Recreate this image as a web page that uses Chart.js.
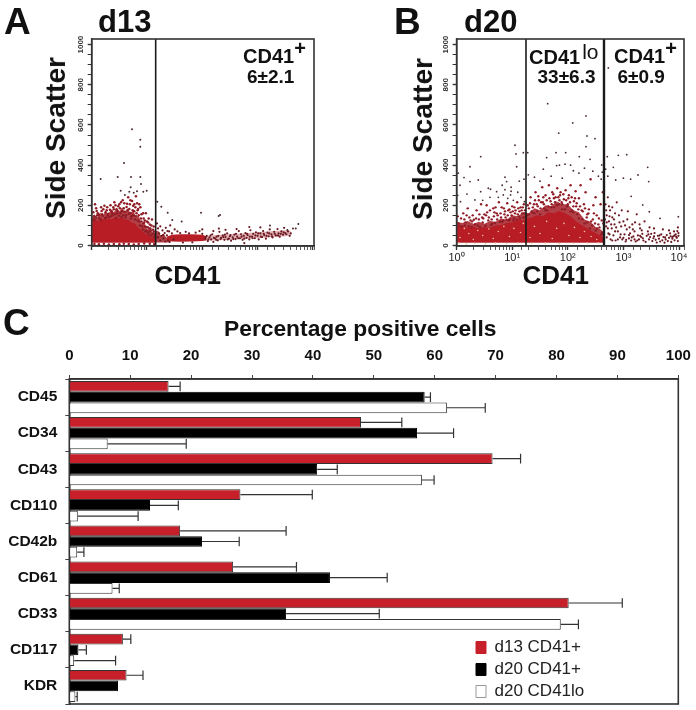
<!DOCTYPE html>
<html><head><meta charset="utf-8">
<script src="https://cdn.jsdelivr.net/npm/chart.js@4/dist/chart.umd.min.js"></script>
<style>
html,body{margin:0;padding:0;background:#fff;width:696px;height:710px;overflow:hidden}
canvas{position:absolute;display:block}
.t{position:absolute;font-family:"Liberation Sans",Arial,sans-serif;font-weight:bold;line-height:1;white-space:nowrap;color:#111}
.r{transform:translate(-50%,-50%) rotate(-90deg);font-size:28px}
.p{position:relative;top:-8px}
</style></head><body>
<canvas id="ca" width="340" height="300" style="left:0;top:0;width:340px;height:300px"></canvas>
<canvas id="cb" width="356" height="300" style="left:340px;top:0;width:356px;height:300px"></canvas>
<canvas id="cc" width="696" height="410" style="left:0;top:300px;width:696px;height:410px"></canvas>

<div class="t" style="left:4px;top:3px;font-size:37px">A</div>
<div class="t" style="left:98px;top:6px;font-size:31px">d13</div>
<div class="t r" style="left:56px;top:137.5px">Side Scatter</div>
<div class="t" style="left:154.5px;top:262px;font-size:26px">CD41</div>
<div class="t" style="left:243px;top:46px;font-size:20px">CD41<span class="p">+</span></div>
<div class="t" style="left:247px;top:67px;font-size:19px">6±2.1</div>

<div class="t" style="left:394px;top:3px;font-size:37px">B</div>
<div class="t" style="left:464px;top:6px;font-size:31px">d20</div>
<div class="t r" style="left:422.6px;top:139px">Side Scatter</div>
<div class="t" style="left:522.5px;top:262px;font-size:26px">CD41</div>
<div class="t" style="left:529px;top:46px;font-size:20px">CD41<span style="position:relative;top:-5px;font-weight:normal;font-size:21px;margin-left:2px">lo</span></div>
<div class="t" style="left:537.5px;top:67px;font-size:19px">33±6.3</div>
<div class="t" style="left:614px;top:46px;font-size:20px">CD41<span class="p">+</span></div>
<div class="t" style="left:617.5px;top:67px;font-size:19px">6±0.9</div>

<div class="t" style="left:3px;top:303.5px;font-size:37px">C</div>
<div class="t" style="left:224px;top:316.7px;font-size:22.8px">Percentage positive cells</div>

<script>
// ---- Panel C: values
const markers = ["CD45","CD34","CD43","CD110","CD42b","CD61","CD33","CD117","KDR"];
const d13Pos  = [16.3,47.9,69.5,28.1,18.2,26.9,82.0,8.8,9.4];
const d13PosHi= [18.2,54.6,74.1,39.9,35.6,37.3,90.8,10.1,12.1];
const d20Pos  = [58.35,57.1,40.7,13.25,21.8,42.8,35.6,1.5,8.0];
const d20PosHi= [59.3,63.1,44.0,17.9,27.9,52.2,50.9,2.8,null];
const d20Lo   = [62.0,6.3,57.9,1.4,1.3,7.1,80.7,0.8,1.0];
const d20LoHi = [68.3,19.2,59.9,11.3,2.4,8.2,83.6,7.6,1.3];
const pctTicks = [0,10,20,30,40,50,60,70,80,90,100];

// ---- Panels A and B: gates in log10(CD41), events as [log10(CD41), side scatter]
const gateA = [1.157];
const gateB = [1.248, 2.651];
const sscTickLabels = [0,200,400,600,800,1000];
const massFloor = 15;

const massAUpper = [[0,120],[.06,128],[.12,122],[.18,132],[.24,126],[.3,135],[.36,130],[.42,140],[.48,134],[.54,140],[.6,130],[.66,128],[.72,115],[.78,110],[.84,88],[.9,78],[.96,58],[1.02,55],[1.08,38],[1.157,40]];
const fringeAUpper = [[0,135],[.05,155],[.1,140],[.15,165],[.2,145],[.25,172],[.3,155],[.35,180],[.4,165],[.45,185],[.5,170],[.55,190],[.6,165],[.65,185],[.7,160],[.75,175],[.8,140],[.85,150],[.9,105],[.95,120],[1.0,80],[1.05,92],[1.1,58],[1.157,66],[1.2,75],[1.25,48],[1.3,60],[1.35,38],[1.4,46]];
const bandAUpper = [[1.36,44],[1.45,54],[1.6,56],[1.8,56],[2.01,54],[2.08,44]];
const bandALower = [[1.36,26],[1.45,20],[1.6,19],[1.8,20],[2.01,22],[2.08,26]];
const tailAUpper = [[2.05,48],[2.5,56],[3,66],[3.5,76],[3.6,74]];
const tailALower = [[2.05,24],[2.5,28],[3,36],[3.5,46],[3.6,50]];

const outliersA = [[.729,579],[.879,527],[.879,492],[.584,411],[.163,331],[.47,341],[.711,341],[.879,341],[.892,306],[.705,290],[.68,268],[.524,273],[.819,270],[.933,268],[.994,272],[.6,252],[.76,262],
[1.186,218],[1.259,193],[1.374,163],[1.457,127],[1.627,119],[1.977,163],[2.32,152],[2.296,147],[3.736,107],[3.69,84],[3.64,84],[3.537,77],[3.224,99]];
const edgeA = [[.03,165],[.06,205],[.08,185],[.1,150],[.02,130],[.05,128],[.14,135],[.18,172],[.2,148],[.23,198],[.26,140],[.3,158],[.33,178],[.35,145],[.39,190],[.42,155],[.44,138],[.47,172],[.5,205],[.52,160],[.54,142],[.56,225],[.58,185],[.6,168],[.62,150],[.64,208],[.66,240],[.68,182],[.7,162],[.72,145],[.73,222],[.75,198],[.77,170],[.78,130],[.8,245],[.82,210],[.84,182],[.85,150],[.86,120],[.88,190],[.9,155],[.92,110],[.94,135],[.96,95],[.98,160],[1.0,120],[1.02,90],[1.05,105],[1.07,75],[1.09,130],[1.1,60],[1.12,95],[1.14,55],
[.08,140],[.11,160],[.16,128],[.21,180],[.24,135],[.28,190],[.31,142],[.37,160],[.41,215],[.45,180],[.49,148],[.51,185],[.55,170],[.59,210],[.61,140],[.63,192],[.67,158],[.69,205],[.71,135],[.74,175],[.76,150],[.79,190],[.81,160],[.83,125],[.87,100],[.89,135],[.91,95],[.93,80],[.95,115],[.97,70],[.99,92],[1.01,65],[1.03,135],[1.04,55],[1.06,85],[1.08,50],[1.11,78],[1.13,42],[1.15,70],
[.04,145],[.09,172],[.13,150],[.17,190],[.19,155],[.25,165],[.27,175],[.29,150],[.34,200],[.36,170],[.38,152],[.4,180],[.43,200],[.46,160],[.48,195],[.53,215],[.57,150],[.65,175],[.7,225],[.74,150],[.77,205],[.8,145],[.83,175],[.86,205],[.9,120],[.93,160],[.96,125],[.99,75],[1.02,115],[1.05,70],[1.08,100],[1.12,68],
[.05,8],[.13,6],[.22,9],[.31,5],[.4,8],[.5,6],[.58,9],[.67,7],[.76,5],[.85,8],[.95,10],[1.05,9],[1.13,7]];
const rightA = [[1.18,110],[1.2,85],[1.22,60],[1.24,95],[1.26,48],[1.28,75],[1.3,35],[1.32,62],[1.34,88],[1.36,50],[1.38,25],[1.4,70],[1.42,100],[1.45,60],[1.48,30],[1.5,80],[1.55,70],[1.6,62],[1.65,15],[1.2,40],[1.24,25],[1.29,52],[1.33,20],[1.37,72],[1.41,18],[1.7,68],[1.76,60],[1.82,16],[1.88,64],[1.95,72],[2.0,58],
[2.05,34],[2.08,48],[2.1,22],[2.13,40],[2.16,30],[2.18,56],[2.2,18],[2.23,36],[2.26,44],[2.28,26],[2.31,68],[2.34,38],[2.37,50],[2.4,28],[2.42,42],[2.45,60],[2.48,34],[2.5,46],[2.52,24],[2.55,40],[2.58,54],[2.6,32],[2.63,44],[2.66,72],[2.68,36],[2.7,56],[2.73,28],[2.75,48],[2.78,62],[2.8,38],[2.82,52],[2.85,30],[2.87,76],[2.9,44],[2.92,58],[2.95,36],[2.97,66],[3.0,48],[3.02,30],[3.05,60],[3.08,42],[3.1,72],[3.12,52],[3.15,34],[3.18,64],[3.2,46],[3.22,80],[3.25,56],[3.27,40],[3.3,68],[3.33,50],[3.36,82],[3.38,60],[3.4,44],[3.43,70],[3.46,54],[3.48,88],[3.5,62],[3.55,70],[3.58,48],[3.6,60],[2.0,80],[2.2,72],[2.3,84],[2.42,78],[2.62,82],[2.85,92],[2.76,12],[3.05,90],
[2.06,42],[2.11,30],[2.15,50],[2.21,38],[2.25,28],[2.29,48],[2.33,32],[2.38,42],[2.41,54],[2.46,30],[2.51,52],[2.56,32],[2.61,58],[2.65,36],[2.71,44],[2.76,34],[2.81,58],[2.86,44],[2.91,36],[2.96,50],[3.01,60],[3.06,44],[3.11,58],[3.16,48],[3.21,60],[3.26,46],[3.31,58],[3.37,50],[3.42,58],[3.47,66],[3.52,56]];

const massBUpper = [[0,92],[.1,98],[.2,88],[.3,95],[.4,84],[.5,92],[.6,88],[.7,100],[.8,102],[.9,112],[1.0,115],[1.1,130],[1.2,124],[1.248,135],[1.35,140],[1.45,150],[1.55,146],[1.65,165],[1.75,160],[1.85,172],[1.95,160],[2.05,145],[2.15,120],[2.25,102],[2.35,85],[2.45,68],[2.55,55],[2.651,36]];
const fringeBUpper = [[0,118],[.1,112],[.2,122],[.3,108],[.4,118],[.5,108],[.6,122],[.7,118],[.8,135],[.9,128],[1.0,150],[1.1,145],[1.2,165],[1.3,160],[1.4,185],[1.5,175],[1.6,200],[1.7,195],[1.8,220],[1.9,205],[2.0,205],[2.1,175],[2.2,165],[2.3,130],[2.4,120],[2.5,92],[2.6,78],[2.651,58]];

const sparseB = [[1.05,499],[1.068,456],[1.2,462],[.433,442],[.241,392],[1.08,392],[.133,338],[.241,318],[.39,326],[.87,340],[.9,318],[1.128,320],[1.212,330],[.82,300],[.98,290],[.87,278],[.98,270],[.57,285],[.61,280],[.187,256],[.433,268],[.72,268],[.84,252],[.97,252],[.07,218],[.33,227],[.47,225],[.6,240],[.03,360],[.06,300],[.02,250],[.75,240],[.92,235],[1.1,265],[1.02,225],[1.16,240],[1.22,218],
[1.638,706],[2.327,645],[2.088,610],[1.836,559],[2.345,545],[2.489,532],[2.327,492],[1.962,462],[1.788,462],[1.62,437],[2.207,442],[2.4,429],[1.85,400],[1.8,398],[1.95,405],[2.05,400],[1.279,462],[2.61,401],[1.29,352],[1.56,380],[1.4,340],[1.5,320],[1.7,345],[1.9,335],[2.1,372],[2.2,360],[2.3,385],[2.45,370],[2.55,345],[2.62,365],[2.6,330],
[2.729,884],[2.71,442],[2.908,449],[3.06,452],[2.68,380],[2.818,389],[3.437,389],[2.72,345],[3,335],[3.13,330],[3.263,351],[3.455,318],[2.862,326],[3.14,245],[3.347,202],[3.466,168],[3.66,135],[3.988,143]];
const cloudB = [[.03,110],[.08,135],[.12,160],[.16,115],[.2,185],[.25,125],[.29,150],[.33,105],[.36,175],[.4,130],[.44,205],[.47,115],[.5,155],[.54,200],[.57,125],[.6,175],[.64,108],[.67,145],[.7,190],[.73,130],[.76,215],[.79,160],[.82,118],[.85,185],[.88,140],[.91,210],[.94,125],[.97,165],[1.0,195],[1.03,135],[1.06,175],[1.09,215],[1.12,145],[1.15,190],[1.18,160],[1.21,205],[1.24,140],
[.05,98],[.1,95],[.15,100],[.22,96],[.27,92],[.31,128],[.38,100],[.42,92],[.46,140],[.52,98],[.55,165],[.62,102],[.66,185],[.69,112],[.72,160],[.78,118],[.81,190],[.84,125],[.86,155],[.9,128],[.93,175],[.96,130],[.99,150],[1.02,125],[1.05,160],[1.08,130],[1.11,185],[1.14,135],[1.17,175],[1.2,140],[1.23,175],
[1.27,150],[1.3,185],[1.33,240],[1.36,165],[1.39,205],[1.42,265],[1.45,170],[1.48,225],[1.51,185],[1.54,290],[1.57,205],[1.6,250],[1.63,175],[1.66,300],[1.69,220],[1.72,265],[1.75,190],[1.78,240],[1.81,285],[1.84,205],[1.87,265],[1.9,180],[1.93,230],[1.96,275],[1.99,195],[2.02,250],[2.05,300],[2.08,175],[2.11,220],[2.14,270],[2.17,155],[2.2,235],[2.23,300],[2.26,130],[2.29,205],[2.32,265],[2.35,115],[2.38,180],[2.41,330],[2.44,100],[2.47,160],[2.5,240],[2.53,85],[2.56,135],[2.59,205],[2.62,65],[2.64,110],[2.63,265],
[1.3,155],[1.35,170],[1.4,160],[1.46,195],[1.5,155],[1.55,215],[1.6,175],[1.65,195],[1.7,190],[1.75,235],[1.8,200],[1.85,225],[1.9,205],[1.95,180],[2.0,205],[2.05,170],[2.1,165],[2.15,195],[2.2,135],[2.25,175],[2.3,110],[2.35,155],[2.4,85],[2.45,130],[2.5,75],[2.55,105],[2.6,55],
[1.28,200],[1.32,210],[1.37,190],[1.41,225],[1.44,205],[1.47,245],[1.52,215],[1.56,240],[1.58,185],[1.62,225],[1.67,235],[1.71,205],[1.74,255],[1.77,215],[1.83,240],[1.86,250],[1.89,215],[1.92,255],[1.97,225],[2.01,235],[2.04,215],[2.07,240],[2.1,195],[2.13,235],[2.16,210],[2.19,180],[2.22,195],[2.27,170],[2.31,185],[2.34,140],[2.37,160],[2.42,120],[2.46,200],[2.49,110],[2.52,150],[2.57,90],[2.61,125],[.02,145],[.14,130],[.18,150],[.23,140],[.28,120],[.35,135],[.41,155],[.48,135],[.53,150],[.58,140],[.63,130],[.68,165],[.74,150],[.8,140],[.87,170],[.92,150],[.95,180],[1.01,170],[1.04,190],[1.1,155],[1.13,170],[1.19,190],[1.22,160]];
const rightB = [[2.68,205],[2.7,150],[2.69,95],[2.72,240],[2.73,60],[2.74,120],[2.76,175],[2.77,30],[2.79,85],[2.8,140],[2.82,50],[2.84,105],[2.86,25],[2.88,215],[2.9,70],[2.92,150],[2.94,40],[2.96,95],[2.98,30],[3.0,120],[3.02,55],[3.04,20],[3.06,80],[3.08,170],[3.1,35],[3.12,60],[3.14,25],[3.16,105],[3.18,45],[3.2,70],[3.22,20],[3.24,155],[3.26,50],[3.28,30],[3.3,85],[3.32,42],[3.34,58],[3.36,25],[3.38,120],[3.4,18],[3.42,48],[3.44,70],[3.46,30],[3.48,42],[3.5,58],[3.52,22],[3.54,36],[3.56,62],[3.58,28],[3.6,15],[3.62,48],[3.64,34],[3.66,20],[3.68,55],[3.7,26],[3.72,42],[3.74,14],[3.76,30],[3.78,52],[3.8,22],[3.82,38],[3.84,60],[3.86,18],[3.88,34],[3.9,46],[3.92,26],[3.94,56],[3.96,38],[3.98,22],[3.99,62],[3.98,90],[3.99,48],[3.97,72],
[2.7,40],[2.75,55],[2.8,25],[2.85,70],[2.9,30],[2.95,55],[3.0,38],[3.05,28],[3.1,52],[3.15,40],[3.2,30],[3.25,25],[3.3,48],[3.35,36],[3.45,55],[3.55,45],[3.65,50],[3.75,40],[3.85,46],[3.95,44],[3.92,50],[3.88,42],
[2.67,130],[2.69,175],[2.7,115],[2.72,85],[2.74,195],[2.75,145],[2.78,105],[2.8,190],[2.83,130],[2.85,160],[2.87,90],[2.93,115],[2.97,175],[3.03,100],[3.07,130],[3.11,90],[3.17,80],[3.21,115],[3.29,105],[3.33,75],[3.47,90],[3.55,85],[3.71,80],[3.82,75],[3.91,70]];
const paleB = [[.06,40],[.14,85],[.22,60],[.3,30],[.38,75],[.47,50],[.58,82],[.66,35],[.75,70],[.85,95],[.95,45],[1.03,85],[1.15,65],[1.2,110],[1.32,40],[1.4,95],[1.5,60],[1.62,120],[1.72,35],[1.8,85],[1.93,110],[2.02,50],[2.12,90],[2.22,40],[2.3,70],[2.42,45],[2.52,30],[.04,12],[.18,9],[.33,11],[.52,9],[.7,12],[.9,10],[1.1,12],[1.35,11],[1.6,12],[1.85,10],[2.1,11],[2.35,12],[2.55,13]];

const lg = a => a.map(p => ({x: Math.pow(10,p[0]), y: p[1]}));
const red = "#b81d26", maroon = "#6b1a22", deep = "#8f1b24";

const sscAxis = {
  min:-2.5, max:1028, position:'left',
  afterFit(s){ s.width = s.options.fixedWidth; s.paddingTop=0; s.paddingBottom=0; },
  border:{display:true,color:"#333",width:1.5},
  grid:{drawOnChartArea:false,tickLength:4,tickColor:"#333",tickWidth:c=>c.tick.value%200===0?1.4:1},
  ticks:{stepSize:50,includeBounds:false,autoSkip:false,minRotation:90,maxRotation:90,crossAlign:'center',padding:-2,color:"#333",
    font:{family:"Liberation Sans",size:8,weight:'bold'},
    callback:v=>sscTickLabels.includes(v)?String(v):''}
};
const sup = {0:"⁰",1:"¹",2:"²",3:"³",4:"⁴"};
const cd41Axis = (max,labels) => ({
  type:'logarithmic',min:1,max,position:'bottom',
  afterFit(s){ s.height = 54; s.paddingLeft=0; s.paddingRight=0; },
  border:{display:true,color:"#333",width:1.5},
  grid:{drawOnChartArea:false,tickLength:4,tickColor:"#333",tickWidth:c=>c.tick.major?1.4:.8},
  ticks:{autoSkip:false,maxRotation:0,minRotation:0,padding:1,color:"#222",
    font:{family:"Liberation Sans",size:11},
    callback(v){ if(!labels) return ''; const e=Math.log10(v); return Number.isInteger(e)?"10"+sup[e]:''; }}
});
const frame = {id:'frame',afterDatasetsDraw(c){
  const {left,top,width,height}=c.chartArea, g=c.ctx;
  g.save(); g.strokeStyle=c.options.frameColor||"#333"; g.lineWidth=c.options.frameWidth||1.6; g.strokeRect(left,top,width,height); g.restore();
}};
const fillUp = (upper,color,ord) => ({type:'line',data:lg(upper),borderWidth:0,pointRadius:0,tension:0,fill:{value:massFloor},backgroundColor:color,order:ord});
const fillBetween = (upper,lower,color,ord) => ([
  {type:'line',data:lg(upper),borderWidth:0,pointRadius:0,tension:0,fill:'+1',backgroundColor:color,order:ord},
  {type:'line',data:lg(lower),borderWidth:0,pointRadius:0,tension:0,fill:false,order:ord}
]);
const dots = (data,color,r,ord) => ({type:'scatter',data:lg(data),backgroundColor:color,borderWidth:0,pointRadius:r,pointHoverRadius:r,order:ord||3});
const gate = (g,w) => ({type:'line',data:[{x:Math.pow(10,g),y:-2.5},{x:Math.pow(10,g),y:1028}],borderColor:"#1a1a1a",borderWidth:w,pointRadius:0,order:1});

function facs(id,left,right,xmax,labels,datasets){
  const y = Object.assign({},sscAxis,{fixedWidth:left});
  new Chart(document.getElementById(id),{
    type:'scatter',data:{datasets},
    options:{responsive:false,animation:false,events:[],devicePixelRatio:1,
      layout:{padding:{top:39,right,bottom:0,left:0}},
      plugins:{legend:{display:false},tooltip:{enabled:false}},
      scales:{x:cd41Axis(xmax,labels),y}},
    plugins:[frame]
  });
}
facs('ca',91.7,26,10470,false,[
  fillUp(fringeAUpper,"rgba(165,28,38,.85)",6),
  fillUp(massAUpper,red,5),
  ...fillBetween(bandAUpper,bandALower,red,5),
  ...fillBetween(tailAUpper,tailALower,"rgba(165,28,38,.35)",5),
  dots(edgeA,deep,1.25),dots(rightA,maroon,1.1),dots(outliersA,"#4a2a2e",1),gate(gateA[0],1.6)
]);
facs('cb',116.6,12,12300,true,[
  fillUp(fringeBUpper,"rgba(165,28,38,.85)",6),
  fillUp(massBUpper,red,5),
  dots(cloudB,deep,1.2),dots(sparseB,"#4a2a2e",.9),dots(rightB,maroon,1.1),dots(paleB,"#e8c49a",.8,2),
  gate(gateB[0],1.6),gate(gateB[1],2.4)
]);

// ---- Panel C
const hi = [d13PosHi,d20PosHi,d20LoHi];
const whiskers = {id:'whiskers',afterDatasetsDraw(c){
  const g=c.ctx,x=c.scales.x; g.save(); g.strokeStyle="#333"; g.lineWidth=1.2;
  c.data.datasets.forEach((ds,i)=>{ c.getDatasetMeta(i).data.forEach((b,j)=>{
    const u=hi[i][j]; if(u==null) return;
    const a=x.getPixelForValue(ds.data[j]),e=x.getPixelForValue(u),h=b.height/2-.5;
    g.beginPath(); g.moveTo(a,b.y); g.lineTo(e,b.y); g.moveTo(e,b.y-h); g.lineTo(e,b.y+h); g.stroke();
  });});
  g.restore();
}};
const legendInPlot = {id:'legendInPlot',
  beforeLayout(c){ const l=c.legend; if(l.__wrapped) return; l.__wrapped=true; const f=l.fit;
    l.fit=function(){ f.call(this); this.__w=this.width; this.__h=this.height; this.width=0; this.height=0; }; },
  beforeDraw(c){ const l=c.legend; l.left=471; l.top=334; l.width=l.__w; l.height=l.__h; l.right=l.left+l.__w; l.bottom=l.top+l.__h; }
};
const swatchStroke = ["#c8202b","#000","#999"];
new Chart(document.getElementById('cc'),{
  type:'bar',
  data:{labels:markers,datasets:[
    {label:"d13 CD41+",data:d13Pos,backgroundColor:"#c8202b",borderColor:"#333",borderWidth:1},
    {label:"d20 CD41+",data:d20Pos,backgroundColor:"#000",borderColor:"#000",borderWidth:1},
    {label:"d20 CD41lo",data:d20Lo,backgroundColor:"#fff",borderColor:"#333",borderWidth:1}
  ]},
  options:{indexAxis:'y',responsive:false,animation:false,events:[],devicePixelRatio:1,
    frameColor:"#333",frameWidth:1.6,
    datasets:{bar:{categoryPercentage:.89,barPercentage:1}},
    layout:{padding:{top:0,right:17.7,bottom:6,left:0}},
    plugins:{tooltip:{enabled:false},
      legend:{display:true,position:'right',align:'start',
        labels:{boxWidth:10,boxHeight:12,padding:5,color:"#222",font:{family:"Liberation Sans",size:17},
          generateLabels(c){ return c.data.datasets.map((d,i)=>({text:d.label,fillStyle:d.backgroundColor,strokeStyle:swatchStroke[i],lineWidth:1,datasetIndex:i,fontColor:"#222"})); }}}},
    scales:{
      x:{position:'top',min:pctTicks[0],max:pctTicks[pctTicks.length-1],afterFit(s){s.height=79;s.paddingLeft=0;s.paddingRight=0;},
        border:{display:true,color:"#333",width:1.5},
        grid:{drawOnChartArea:false,tickLength:4,tickColor:"#444",tickWidth:1},
        ticks:{stepSize:10,autoSkip:false,maxRotation:0,padding:10,color:"#111",font:{family:"Liberation Sans",size:15,weight:'bold'}}},
      y:{afterFit(s){s.width=69.3;s.paddingTop=0;s.paddingBottom=0;},
        border:{display:true,color:"#333",width:1.5},
        grid:{drawOnChartArea:false,offset:true,tickLength:4,tickColor:"#444",tickWidth:1},
        ticks:{autoSkip:false,padding:8,color:"#111",font:{family:"Liberation Sans",size:15.5,weight:'bold'}}}
    }},
  plugins:[frame,whiskers,legendInPlot]
});
</script></body></html>
